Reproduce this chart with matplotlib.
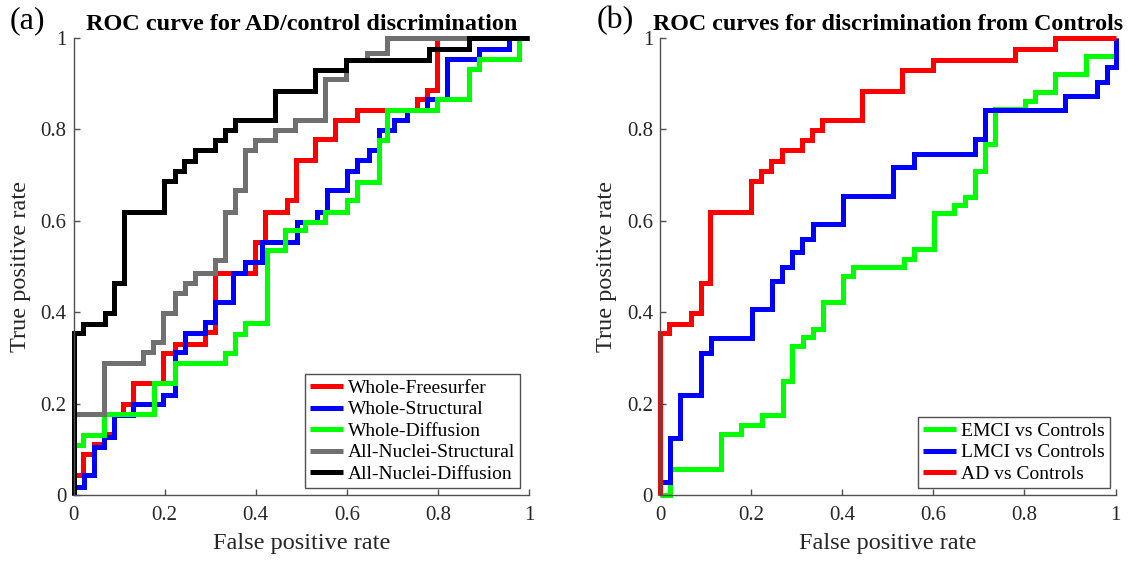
import matplotlib
matplotlib.use("Agg")
import matplotlib.pyplot as plt

plt.rcParams['font.family'] = ['Liberation Serif', 'DejaVu Serif']

# ---------------- data (ROC step corners: fpr, tpr) ----------------
# Panel (a)
freesurfer_fpr = [0, 0, 0.02, 0.044, 0.066, 0.088, 0.109, 0.131, 0.197, 0.223, 0.289, 0.311,
                  0.399, 0.42, 0.469, 0.488, 0.531, 0.575, 0.622, 0.754, 0.776, 0.798, 1.0]
freesurfer_tpr = [0, 0.044, 0.089, 0.111, 0.133, 0.178, 0.2, 0.244, 0.31, 0.331, 0.357, 0.486,
                  0.553, 0.619, 0.645, 0.732, 0.78, 0.82, 0.843, 0.867, 0.887, 1.0, 1.0]

structural_fpr = [0, 0, 0.022, 0.044, 0.066, 0.088, 0.131, 0.197, 0.223, 0.245, 0.289, 0.311,
                  0.351, 0.377, 0.414, 0.49, 0.534, 0.556, 0.6, 0.622, 0.648, 0.67, 0.703, 0.732,
                  0.776, 0.82, 0.89, 0.955, 1.0]
structural_tpr = [0, 0.018, 0.044, 0.106, 0.127, 0.175, 0.2, 0.219, 0.313, 0.355, 0.379, 0.423,
                  0.486, 0.51, 0.554, 0.597, 0.619, 0.667, 0.71, 0.732, 0.754, 0.798, 0.82, 0.843,
                  0.867, 0.954, 0.976, 1.0, 1.0]

diffusion_fpr = [0, 0, 0.02, 0.066, 0.177, 0.223, 0.333, 0.355, 0.377, 0.425, 0.465, 0.509,
                 0.553, 0.6, 0.622, 0.67, 0.688, 0.798, 0.868, 0.89, 0.978, 1.0]
diffusion_tpr = [0, 0.109, 0.131, 0.177, 0.244, 0.288, 0.31, 0.353, 0.377, 0.536, 0.579, 0.597,
                 0.619, 0.645, 0.685, 0.776, 0.843, 0.867, 0.933, 0.954, 1.0, 1.0]

nuclei_struct_fpr = [0, 0, 0.066, 0.153, 0.175, 0.197, 0.223, 0.245, 0.267, 0.311, 0.333, 0.355,
                     0.377, 0.399, 0.443, 0.487, 0.553, 0.599, 0.644, 0.688, 1.0]
nuclei_struct_tpr = [0, 0.177, 0.288, 0.313, 0.335, 0.398, 0.442, 0.464, 0.486, 0.514, 0.619, 0.667,
                     0.754, 0.776, 0.798, 0.82, 0.911, 0.951, 0.967, 1.0, 1.0]

nuclei_diff_fpr = [0, 0, 0.02, 0.069, 0.09, 0.11, 0.199, 0.222, 0.243, 0.267, 0.311, 0.333,
                   0.355, 0.443, 0.531, 0.599, 0.78, 0.868, 1.0]
nuclei_diff_tpr = [0, 0.354, 0.375, 0.398, 0.463, 0.619, 0.687, 0.709, 0.731, 0.756, 0.776, 0.798,
                   0.82, 0.885, 0.93, 0.951, 0.976, 1.0, 1.0]

# Panel (b)
emci_fpr = [0, 0.023, 0.133, 0.177, 0.223, 0.269, 0.289, 0.313, 0.335, 0.357, 0.401, 0.423,
            0.536, 0.557, 0.602, 0.646, 0.669, 0.691, 0.713, 0.735, 0.802, 0.824, 0.868, 0.936, 1.0]
emci_tpr = [0, 0.056, 0.133, 0.153, 0.175, 0.249, 0.326, 0.345, 0.364, 0.423, 0.479, 0.5,
            0.517, 0.539, 0.616, 0.634, 0.652, 0.71, 0.769, 0.845, 0.863, 0.882, 0.921, 0.96, 1.0]

lmci_fpr = [0, 0, 0.023, 0.045, 0.089, 0.111, 0.201, 0.245, 0.267, 0.289, 0.311, 0.335,
            0.401, 0.511, 0.557, 0.691, 0.713, 0.89, 0.96, 0.982, 1.0]
lmci_tpr = [0, 0.029, 0.124, 0.219, 0.31, 0.343, 0.406, 0.469, 0.499, 0.532, 0.561, 0.594,
            0.654, 0.718, 0.747, 0.78, 0.842, 0.874, 0.903, 0.936, 1.0]

ad_fpr = nuclei_diff_fpr
ad_tpr = nuclei_diff_tpr

labels_a = ["Whole-Freesurfer", "Whole-Structural", "Whole-Diffusion",
            "All-Nuclei-Structural", "All-Nuclei-Diffusion"]
labels_b = ["EMCI vs Controls", "LMCI vs Controls", "AD vs Controls"]
colors_a = ["#ff0000", "#0000ff", "#00ff00", "#707070", "#000000"]
colors_b = ["#00ff00", "#0000ff", "#ff0000"]
ticks = [0, 0.2, 0.4, 0.6, 0.8, 1]
tick_labels = ["0", "0.2", "0.4", "0.6", "0.8", "1"]

# ---------------- figure ----------------
fig = plt.figure(figsize=(11.35, 5.61), dpi=100)
axA = fig.add_axes([73.5 / 1135, 66 / 561, 455.5 / 1135, 457 / 561])
axB = fig.add_axes([660 / 1135, 66 / 561, 455.5 / 1135, 457 / 561])

axis_col = "#505050"
text_col = "#262626"


def style(ax):
    ax.set_xlim(0, 1)
    ax.set_ylim(0, 1)
    for s in ["top", "right"]:
        ax.spines[s].set_visible(False)
    for s in ["left", "bottom"]:
        ax.spines[s].set_color(axis_col)
        ax.spines[s].set_linewidth(1.0)
    ax.set_xticks(ticks)
    ax.set_xticklabels(tick_labels)
    ax.set_yticks(ticks)
    ax.set_yticklabels(tick_labels)
    ax.tick_params(direction="in", length=4, width=1.0, color=axis_col,
                   labelcolor=text_col, labelsize=15)
    ax.tick_params(axis="x", pad=8)
    ax.tick_params(axis="y", pad=5)
    ax.set_xlabel("False positive rate", fontsize=17.5, color=text_col, labelpad=6)
    ax.set_ylabel("True positive rate", fontsize=17.5, color=text_col, labelpad=7)


series_a = [(freesurfer_fpr, freesurfer_tpr), (structural_fpr, structural_tpr),
            (diffusion_fpr, diffusion_tpr), (nuclei_struct_fpr, nuclei_struct_tpr),
            (nuclei_diff_fpr, nuclei_diff_tpr)]
for (fx, ty), c, lab in zip(series_a, colors_a, labels_a):
    axA.plot(fx, ty, drawstyle="steps-post", color=c, lw=3.6, label=lab,
             clip_on=False, solid_joinstyle="miter", solid_capstyle="butt")

series_b = [(emci_fpr, emci_tpr), (lmci_fpr, lmci_tpr), (ad_fpr, ad_tpr)]
for (fx, ty), c, lab in zip(series_b, colors_b, labels_b):
    axB.plot(fx, ty, drawstyle="steps-post", color=c, lw=3.6, label=lab,
             clip_on=False, solid_joinstyle="miter", solid_capstyle="butt")

for ax in (axA, axB):
    style(ax)

axA.set_title("ROC curve for AD/control discrimination", fontsize=17.5,
              fontweight="bold", pad=6)
axB.set_title("ROC curves for discrimination from Controls", fontsize=17.3,
              fontweight="bold", pad=6)

leg_kw = dict(loc="lower right", fontsize=14, frameon=True, fancybox=False,
              handlelength=1.7, handletextpad=0.25, labelspacing=0.2,
              borderpad=0.25, borderaxespad=0, framealpha=1)
legA = axA.legend(bbox_to_anchor=(0.98, 0.016), **leg_kw)
legB = axB.legend(bbox_to_anchor=(0.987, 0.016), **leg_kw)
for lg in (legA, legB):
    lg.get_frame().set_edgecolor(axis_col)
    lg.get_frame().set_linewidth(1.0)
    for ln in lg.get_lines():
        ln.set_linewidth(3.6)

fig.text(10 / 1135, 1 - 21 / 561, "(a)", fontsize=23, va="center", ha="left")
fig.text(597 / 1135, 1 - 21 / 561, "(b)", fontsize=23, va="center", ha="left")

fig.savefig("out.png", dpi=100)
